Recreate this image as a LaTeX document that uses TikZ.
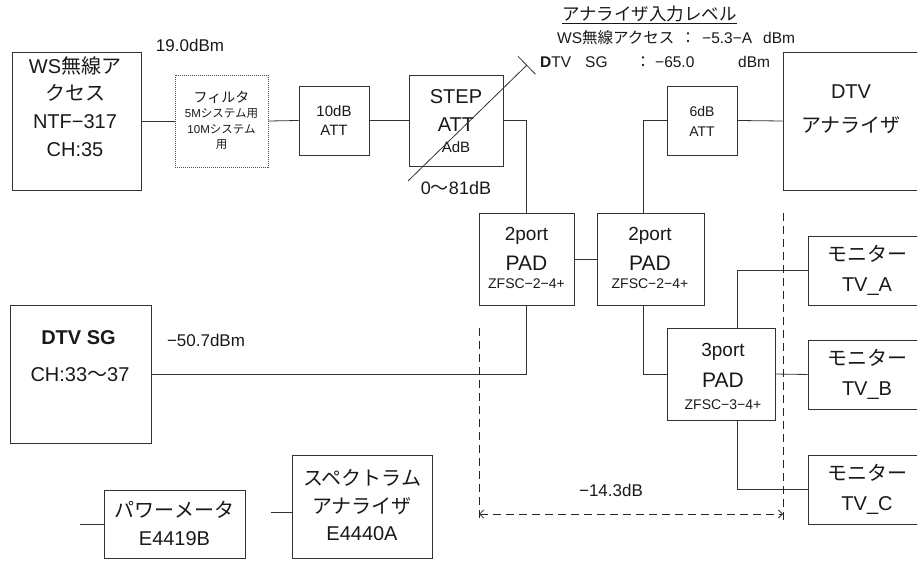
\documentclass[tikz,border=0pt]{standalone}
\usepackage{fontspec}
\setmainfont{Liberation Sans}
\newfontfamily\jp{Noto Sans CJK JP}
\usetikzlibrary{arrows.meta}
\newcommand\myfs[2]{\fontsize{#1}{#2}\selectfont}
\begin{document}
\begin{tikzpicture}[x=1pt,y=-1pt,
  box/.style 2 args={draw=black!80, line width=0.8pt, inner sep=0pt, minimum width=#1, minimum height=#2},
  fbox/.style 2 args={draw=black!70, line width=0.8pt, dash pattern=on 1pt off 1pt, inner sep=0pt, minimum width=#1, minimum height=#2},
  txt/.style={inner sep=0pt, align=center, text=black!90},
  wire/.style={draw=black!80, line width=0.8pt},
  dsh/.style={draw=black!85, line width=0.8pt, dash pattern=on 8pt off 5pt}]
\useasboundingbox (0,0) rectangle (917,561);
\clip (0,0) rectangle (917,561);

% WS radio access
\node[box={129}{138}] (ws) at (76.5,121) {};
\node[txt, font=\myfs{20}{27.7}] (wsT) at (75,106.5) {WS{\jp 無線ア}\\{\jp クセス}\\NTF−317\\CH:35};
\node[txt, font=\myfs{17}{17}] (p19) at (190,45) {19.0dBm};

% filter
\node[fbox={93}{92}] (flt) at (221.5,121) {};
\node[txt, font=\myfs{14}{14}\jp] (flt1) at (221.5,97) {フィルタ};
\node[txt, font=\myfs{11.5}{11.5}] (flt2) at (221.5,114) {5M{\jp システム用}};
\node[txt, font=\myfs{11.5}{11.5}] (flt3) at (221.5,129) {10M{\jp システム}};
\node[txt, font=\myfs{11.5}{11.5}\jp] (flt4) at (221.5,145) {用};

% 10dB ATT
\node[box={70}{69}] (att10) at (334,120.5) {};
\node[txt, font=\myfs{15}{19}] (att10T) at (334,121) {10dB\\ATT};

% STEP ATT
\node[box={94}{91}] (step) at (456,120.5) {};
\node[txt, font=\myfs{20}{20}] (step1) at (456,97) {STEP};
\node[txt, font=\myfs{20}{20}] (step2) at (456,125) {ATT};
\node[txt, font=\myfs{15}{15}] (step3) at (456,147) {AdB};
\coordinate (dgA) at (408,181);
\coordinate (dgB) at (527,65);
\draw[wire, -{Bar[width=25pt,line width=0.8pt]}] (dgA) -- (dgB);
\node[txt, font=\myfs{18}{18}] (rng) at (456,188) {0{\jp 〜}81dB};

% analyser input level
\node[txt, font=\myfs{17.5}{17.5}\jp, anchor=west] (lvT) at (562,15) {\underline{アナライザ入力レベル}};
\node[txt, font=\myfs{15.5}{15.5}, anchor=west] (lv1a) at (557,38) {WS{\jp 無線アクセス}};
\node[txt, font=\myfs{15.5}{15.5}\jp] (lv1b) at (688,38) {：};
\node[txt, font=\myfs{15.5}{15.5}, anchor=west] (lv1c) at (702,38) {−5.3−A};
\node[txt, font=\myfs{15.5}{15.5}, anchor=west] (lv1d) at (763,38) {dBm};
\node[txt, font=\myfs{15.5}{15.5}, anchor=west] (lv2a) at (540,62) {\textbf{D}TV};
\node[txt, font=\myfs{15.5}{15.5}, anchor=west] (lv2b) at (585,62) {SG};
\node[txt, font=\myfs{15.5}{15.5}\jp] (lv2c) at (643,62) {：};
\node[txt, font=\myfs{15.5}{15.5}, anchor=west] (lv2d) at (655,62) {−65.0};
\node[txt, font=\myfs{15.5}{15.5}, anchor=west] (lv2e) at (738,62) {dBm};

% 6dB ATT and DTV analyser
\node[box={70}{69}] (att6) at (702,120.5) {};
\node[txt, font=\myfs{14}{20}] (att6T) at (702,121) {6dB\\ATT};
\node[box={145}{138}] (dtva) at (855.5,121) {};
\node[txt, font=\myfs{20}{20}] (dtva1) at (851,92) {DTV};
\node[txt, font=\myfs{20}{20}\jp] (dtva2) at (851,125) {アナライザ};

% PADs
\node[box={95}{92}] (pad1) at (526.5,259) {};
\node[txt, font=\myfs{19}{19}] (pad1a) at (526.5,236) {2port};
\node[txt, font=\myfs{21}{21}] (pad1b) at (526.5,263) {PAD};
\node[txt, font=\myfs{14}{14}] (pad1c) at (526.5,284) {ZFSC−2−4+};
\node[box={107}{92}] (pad2) at (650.5,259) {};
\node[txt, font=\myfs{19}{19}] (pad2a) at (650,236) {2port};
\node[txt, font=\myfs{21}{21}] (pad2b) at (650,263) {PAD};
\node[txt, font=\myfs{14}{14}] (pad2c) at (650,284) {ZFSC−2−4+};
\node[box={108}{92}] (pad3) at (721,374) {};
\node[txt, font=\myfs{19}{19}] (pad3a) at (723,352) {3port};
\node[txt, font=\myfs{21}{21}] (pad3b) at (723,380) {PAD};
\node[txt, font=\myfs{14}{14}] (pad3c) at (723,405) {ZFSC−3−4+};

% monitors
\node[box={118}{69}] (tva) at (867,270.5) {};
\node[txt, font=\myfs{20}{30}] (tvaT) at (867,270) {{\jp モニター}\\TV\_A};
\node[box={118}{69}] (tvb) at (867,374.5) {};
\node[txt, font=\myfs{20}{30}] (tvbT) at (867,374) {{\jp モニター}\\TV\_B};
\node[box={118}{69}] (tvc) at (867,489.5) {};
\node[txt, font=\myfs{20}{30}] (tvcT) at (867,489) {{\jp モニター}\\TV\_C};

% DTV SG
\node[box={141}{138}] (sg) at (80.5,374) {};
\node[txt, font=\myfs{20}{20}] (sg1) at (78.5,338) {\textbf{DTV SG}};
\node[txt, font=\myfs{20}{20}] (sg2) at (80,375) {CH:33{\jp 〜}37};
\node[txt, font=\myfs{17}{17}] (p50) at (206,340) {−50.7dBm};

% power meter and spectrum analyser
\node[box={141}{68}] (pm) at (174.5,524) {};
\node[txt, font=\myfs{20}{28}] (pmT) at (174.5,523) {{\jp パワーメータ}\\E4419B};
\node[box={140}{103}] (sa) at (362,506.5) {};
\node[txt, font=\myfs{20}{27.5}] (saT) at (362,505.5) {{\jp スペクトラム}\\{\jp アナライザ}\\E4440A};
\coordinate (pmL) at (80,524);
\coordinate (saL) at (271,512);

% connectors
\draw[wire] (ws.east) -- (flt.west);
\draw[wire] (flt.east) -- (att10.west);
\draw[wire] (att10.east) -- (step.west);
\draw[wire] (step.east) -| (pad1.north);
\draw[wire] (att6.east) -- (dtva.west);
\draw[wire] (att6.west) -| ([xshift=-7.5pt]pad2.north);
\draw[wire] (pad1.east) -- (pad2.west);
\draw[wire] (pad1.south) |- (sg.east);
\draw[wire] ([xshift=-7.5pt]pad2.south) |- (pad3.west);
\draw[wire] ([xshift=16pt]pad3.north) |- (tva.west);
\draw[wire] (pad3.east) -- (tvb.west);
\draw[wire] ([xshift=16pt]pad3.south) |- (tvc.west);
\draw[wire] (pmL) -- (pm.west);
\draw[wire] (saL) -- (sa.west |- saL);

% dashed reference lines
\coordinate (dv1t) at (479,328);
\coordinate (dv1b) at (479,522);
\coordinate (dv2t) at (783,213);
\coordinate (dv2b) at (783,522);
\coordinate (arL) at (479,514);
\coordinate (arR) at (783,514);
\draw[dsh] (dv1t) -- (dv1b);
\draw[dsh] (dv2t) -- (dv2b);
\draw[dsh, {Straight Barb[length=4pt,width=8pt]}-{Straight Barb[length=4pt,width=8pt]}] (arL) -- (arR);
\node[txt, font=\myfs{17}{17}] (p14) at (611,490) {−14.3dB};
\end{tikzpicture}
\end{document}
